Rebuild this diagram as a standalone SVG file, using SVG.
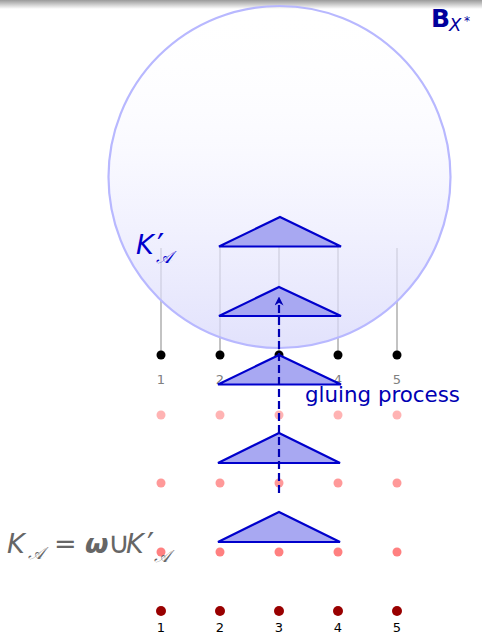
<svg xmlns="http://www.w3.org/2000/svg" width="482" height="634" viewBox="0 0 482 634">
<defs>
<linearGradient id="topbar" x1="0" y1="0" x2="0" y2="1">
<stop offset="0" stop-color="#9a9a9a"/>
<stop offset="1" stop-color="#ffffff"/>
</linearGradient>
<linearGradient id="ball" x1="0" y1="0" x2="0" y2="1">
<stop offset="0" stop-color="#ffffff" stop-opacity="0"/>
<stop offset="0.45" stop-color="#f4f4ff" stop-opacity="0.6"/>
<stop offset="1" stop-color="#d8d8fb" stop-opacity="0.75"/>
</linearGradient>
<marker id="arr" viewBox="0 0 10 10" refX="5" refY="5" markerWidth="9" markerHeight="9" orient="auto-start-reverse" markerUnits="userSpaceOnUse">
<path d="M0,0 L10,5 L0,10 L3,5 Z" fill="#0000b3"/>
</marker>
</defs>
<style>
.vline{stroke:#a3a3a3;stroke-width:1.3;fill:none}
.tri{fill:#a8a8f2;stroke:#0000cc;stroke-width:2.2;stroke-linejoin:miter}
.num{font-family:"DejaVu Sans","Liberation Sans",sans-serif;font-size:13px;text-anchor:middle}
.sans{font-family:"DejaVu Sans","Liberation Sans",sans-serif}
.it{font-family:"DejaVu Sans","Liberation Sans",sans-serif;font-style:italic}
.scr{font-family:"DejaVu Serif","Liberation Serif",serif;font-style:italic}
.pr{font-family:"DejaVu Sans","Liberation Sans",sans-serif;font-size:32px}
.bd{fill:#000000}
.p1{fill:#ffb3b3}
.p2{fill:#ff9999}
.p3{fill:#ff8080}
.dr{fill:#990000}
</style>
<rect x="0" y="0" width="482" height="634" fill="#ffffff"/>
<rect x="0" y="0" width="482" height="9" fill="url(#topbar)"/>

<g id="connectors">
<line class="vline" x1="161" y1="248" x2="161" y2="355"/>
<line class="vline" x1="220" y1="247" x2="220" y2="355"/>
<line class="vline" x1="279" y1="247" x2="279" y2="355"/>
<line class="vline" x1="338" y1="247" x2="338" y2="355"/>
<line class="vline" x1="397" y1="248" x2="397" y2="355"/>
</g>

<g id="ball-Bx" fill="#00009c">
<circle cx="279.5" cy="177" r="171" fill="url(#ball)" stroke="#b8b8ff" stroke-width="2.2"/>
<text x="431" y="27" class="sans" font-size="25" font-weight="bold">B</text>
<text x="449" y="31" class="it" font-size="18">X</text>
<text x="464" y="25" class="sans" font-size="12">*</text>
</g>

<g id="label-Kprime" fill="#0000cc">
<text x="136" y="254" class="it" font-size="27">K</text>
<text x="157" y="256" class="pr">′</text>
<text x="156" y="263" class="scr" font-size="17">𝒜</text>
</g>

<g id="tri1"><polygon class="tri" points="219,246.5 280,217 341,246.5"/></g>
<g id="tri2"><polygon class="tri" points="219,316 279,287 341,316"/></g>

<g id="dots-black">
<circle class="bd" cx="161" cy="355" r="4.5"/>
<circle class="bd" cx="220" cy="355" r="4.5"/>
<circle class="bd" cx="279" cy="355" r="4.5"/>
<circle class="bd" cx="338" cy="355" r="4.5"/>
<circle class="bd" cx="397" cy="355" r="4.5"/>
<g fill="#808080">
<text class="num" x="161" y="384">1</text>
<text class="num" x="220" y="384">2</text>
<text class="num" x="279" y="384">3</text>
<text class="num" x="338" y="384">4</text>
<text class="num" x="397" y="384">5</text>
</g>
</g>

<g id="dots-row1">
<circle class="p1" cx="161" cy="415" r="4.5"/>
<circle class="p1" cx="220" cy="415" r="4.5"/>
<circle class="p1" cx="279" cy="415" r="4.5"/>
<circle class="p1" cx="338" cy="415" r="4.5"/>
<circle class="p1" cx="397" cy="415" r="4.5"/>
</g>
<g id="dots-row2">
<circle class="p2" cx="161" cy="483" r="4.5"/>
<circle class="p2" cx="220" cy="483" r="4.5"/>
<circle class="p2" cx="279" cy="483" r="4.5"/>
<circle class="p2" cx="338" cy="483" r="4.5"/>
<circle class="p2" cx="397" cy="483" r="4.5"/>
</g>
<g id="dots-row3">
<circle class="p3" cx="161" cy="552" r="4.5"/>
<circle class="p3" cx="220" cy="552" r="4.5"/>
<circle class="p3" cx="279" cy="552" r="4.5"/>
<circle class="p3" cx="338" cy="552" r="4.5"/>
<circle class="p3" cx="397" cy="552" r="4.5"/>
</g>

<g id="tri3"><polygon class="tri" points="218,384.5 279,355 341,384.5"/></g>
<g id="tri4"><polygon class="tri" points="218,463 279,433 340,463"/></g>
<g id="tri5"><polygon class="tri" points="218,542 279,512 340,542"/></g>

<g id="gluing-arrow">
<line x1="279" y1="493" x2="279" y2="301" stroke="#0000b3" stroke-width="2.2" stroke-dasharray="8,4" marker-end="url(#arr)"/>
</g>

<g id="label-gluing">
<text x="305" y="402" class="sans" font-size="21" fill="#0000b3" textLength="155" lengthAdjust="spacingAndGlyphs">gluing process</text>
</g>

<g id="label-K" fill="#666666">
<text x="7" y="553" class="it" font-size="27">K</text>
<text x="28" y="559" class="scr" font-size="17">𝒜</text>
<text x="54" y="553" class="sans" font-size="27">=</text>
<text x="85" y="553" class="it" font-size="27" font-weight="bold">ω</text>
<text x="108" y="553" class="sans" font-size="30">∪</text>
<text x="126" y="553" class="it" font-size="27">K</text>
<text x="147" y="555" class="pr">′</text>
<text x="154" y="562" class="scr" font-size="17">𝒜</text>
</g>

<g id="dots-bottom">
<circle class="dr" cx="161" cy="611" r="5"/>
<circle class="dr" cx="220" cy="611" r="5"/>
<circle class="dr" cx="279" cy="611" r="5"/>
<circle class="dr" cx="338" cy="611" r="5"/>
<circle class="dr" cx="397" cy="611" r="5"/>
<g fill="#000000">
<text class="num" x="161" y="632">1</text>
<text class="num" x="220" y="632">2</text>
<text class="num" x="279" y="632">3</text>
<text class="num" x="338" y="632">4</text>
<text class="num" x="397" y="632">5</text>
</g>
</g>
</svg>
